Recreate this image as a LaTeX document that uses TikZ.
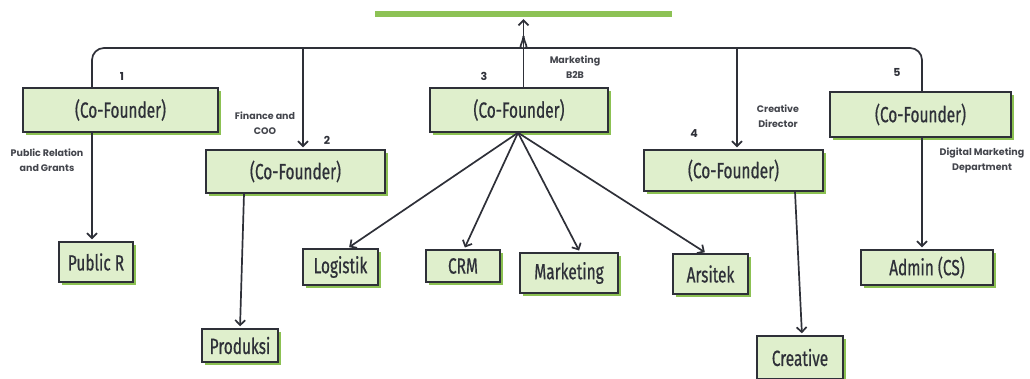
\documentclass[tikz,border=0pt]{standalone}
\usepackage{fontspec}
\setmainfont{Poppins}
\newfontfamily\handfont[FakeStretch=0.7, FakeBold=0.6]{Fira Sans}
\usetikzlibrary{arrows.meta,shadows}

\definecolor{boxgreen}{HTML}{DFEFCC}
\definecolor{shadegreen}{HTML}{8CC152}
\definecolor{bargreen}{HTML}{8DC255}
\definecolor{ink}{HTML}{2E3038}

\begin{document}
\begin{tikzpicture}[x=1pt, y=-1pt,
  role/.style = {draw=ink, line width=1.4pt, fill=boxgreen, inner sep=0pt,
    font=\handfont\fontsize{22}{22}\selectfont, text=ink,
    drop shadow={fill=shadegreen, opacity=1, shadow xshift=3pt, shadow yshift=-3pt}},
  conn/.style = {draw=ink, line width=1.7pt},
  arr/.style = {conn, -{Straight Barb[length=5pt, width=10pt]}, shorten >=2pt},
  note/.style = {font=\bfseries\fontsize{9.5}{15}\selectfont, text=ink!90, align=center},
  num/.style = {font=\bfseries\fontsize{11}{12}\selectfont, text=ink}]

\useasboundingbox (0,0) rectangle (1030,378);

% top bar
\node (bar) [fill=bargreen, minimum width=297, minimum height=6, inner sep=0pt] at (523.5,14) {};

% co-founders
\node (b1) [role, minimum width=195, minimum height=44] at (120.5,110) {(Co-Founder)};
\node (b2) [role, minimum width=179, minimum height=43] at (295.5,171.5) {(Co-Founder)};
\node (b3) [role, minimum width=178, minimum height=44] at (519,110) {(Co-Founder)};
\node (b4) [role, minimum width=179, minimum height=41] at (733.5,170.5) {(Co-Founder)};
\node (b5) [role, minimum width=181, minimum height=45] at (920.5,114.5) {(Co-Founder)};

% divisions
\node (pr) [role, minimum width=74, minimum height=40] at (96,262) {Public R};
\node (pd) [role, minimum width=76, minimum height=33] at (240,345.5) {Produksi};
\node (lg) [role, minimum width=75, minimum height=36] at (340.5,267) {Logistik};
\node (crm) [role, minimum width=74, minimum height=32] at (463,266) {CRM};
\node (mk) [role, minimum width=98, minimum height=40] at (569,273) {Marketing};
\node (ar) [role, minimum width=75, minimum height=40] at (710.5,274) {Arsitek};
\node (cr) [role, minimum width=86, minimum height=43] at (800,357.5) {Creative};
\node (ad) [role, minimum width=132, minimum height=35] at (927,267.5) {Admin (CS)};

% numbers and roles
\node (n1) [num] at (122,76) {1};
\node (n2) [num] at (327,140) {2};
\node (n3) [num] at (484,76) {3};
\node (n4) [num] at (694,134) {4};
\node (n5) [num] at (897,72) {5};

\node (t1) [note] at (47,160) {Public Relation\\and Grants};
\node (t2) [note] at (265,123) {Finance and\\COO};
\node (t3) [note] at (575,67) {Marketing\\B2B};
\node (t4) [note] at (778,116) {Creative\\Director};
\node (t5) [note] at (982,160) {Digital Marketing\\Department};

% top connectors
\coordinate (j2) at (303,48);
\coordinate (j4) at (737,48);
\draw[conn, rounded corners=12] ([xshift=-28.5]b1.north) |- (510,48) .. controls (518,48) and (522.5,44) .. (523.5,36);
\draw[conn, rounded corners=12] ([xshift=1.5]b5.north) |- (537,48) .. controls (529,48) and (524.5,44) .. (523.5,36);
\draw[arr] (b3.north -| bar.south) -- (bar.south);
\draw[arr] (j2) -- (j2 |- b2.north);
\draw[arr] (j4) -- (j4 |- b4.north);

% lower connectors
\draw[arr] ([xshift=-28.5]b1.south) -- ([xshift=-4]pr.north);
\draw[arr] ([xshift=-51.5]b2.south) -- (pd.north);
\draw[arr] ([xshift=-1]b3.south) -- ([xshift=7]lg.north);
\draw[arr] ([xshift=-1]b3.south) -- ([xshift=1]crm.north);
\draw[arr] ([xshift=-1]b3.south) -- ([xshift=11]mk.north);
\draw[arr] ([xshift=-1]b3.south) -- ([xshift=-4]ar.north);
\draw[arr] ([xshift=61.5]b4.south) -- ([xshift=2]cr.north);
\draw[arr] ([xshift=1.5]b5.south) -- ([xshift=-5]ad.north);

\end{tikzpicture}
\end{document}
